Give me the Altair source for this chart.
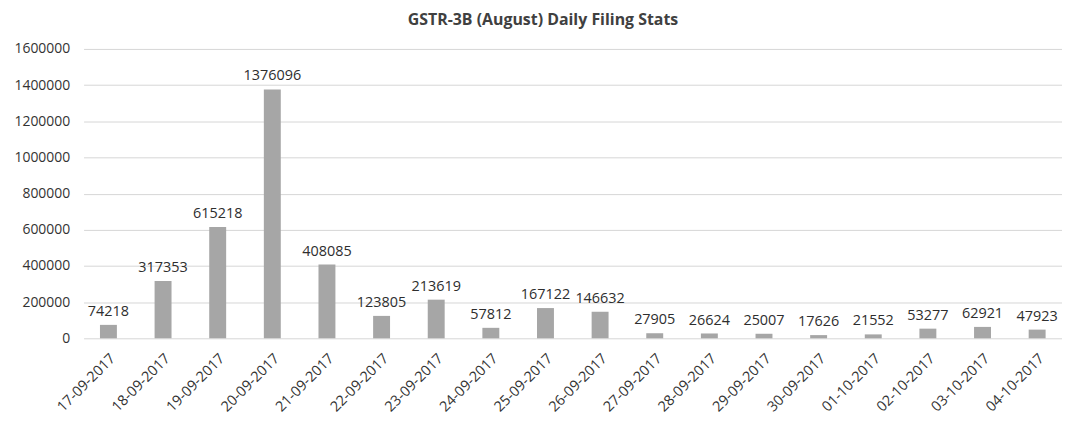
import altair as alt
import pandas as pd

dates = ["17-09-2017", "18-09-2017", "19-09-2017", "20-09-2017", "21-09-2017",
         "22-09-2017", "23-09-2017", "24-09-2017", "25-09-2017", "26-09-2017",
         "27-09-2017", "28-09-2017", "29-09-2017", "30-09-2017", "01-10-2017",
         "02-10-2017", "03-10-2017", "04-10-2017"]
filings = [74218, 317353, 615218, 1376096, 408085, 123805, 213619, 57812,
           167122, 146632, 27905, 26624, 25007, 17626, 21552, 53277, 62921, 47923]
y_ticks = [0, 200000, 400000, 600000, 800000, 1000000, 1200000, 1400000, 1600000]

df = pd.DataFrame({"date": dates, "filings": filings})

FONT = "Open Sans"

x = alt.X("date:N", sort=dates, title=None,
          scale=alt.Scale(paddingInner=0.69, paddingOuter=0.3),
          axis=alt.Axis(labelAngle=-45, labelFontSize=14.5, labelFont=FONT,
                        labelColor="#333333", domain=False, ticks=False,
                        labelPadding=13, grid=False))
y = alt.Y("filings:Q", title=None,
          scale=alt.Scale(domain=[0, 1600000], nice=False),
          axis=alt.Axis(values=y_ticks, format="d", labelFontSize=14, labelFont=FONT,
                        labelColor="#333333", domain=False, ticks=False,
                        labelPadding=14, gridColor="#d6d6d6", gridWidth=1))

base = alt.Chart(df)
bars = base.mark_bar(color="#a6a6a6").encode(x=x, y=y)
labels = base.mark_text(dy=-9, baseline="alphabetic", fontSize=14.5, font=FONT,
                        color="#2e2e2e").encode(x=x, y=y, text=alt.Text("filings:Q", format="d"))

chart = (bars + labels).properties(
    width=984, height=291,
    title=alt.TitleParams("GSTR-3B (August) Daily Filing Stats", fontSize=16,
                          font=FONT, fontWeight="bold", color="#404040",
                          anchor="middle", offset=14, dx=-30),
    autosize=alt.AutoSizeParams(type="none"),
    padding={"left": 76, "top": 40, "right": 0, "bottom": 80},
    background="white",
).configure_view(stroke=None)

chart.save("out.html", embed_options={"renderer": "svg", "actions": False})
